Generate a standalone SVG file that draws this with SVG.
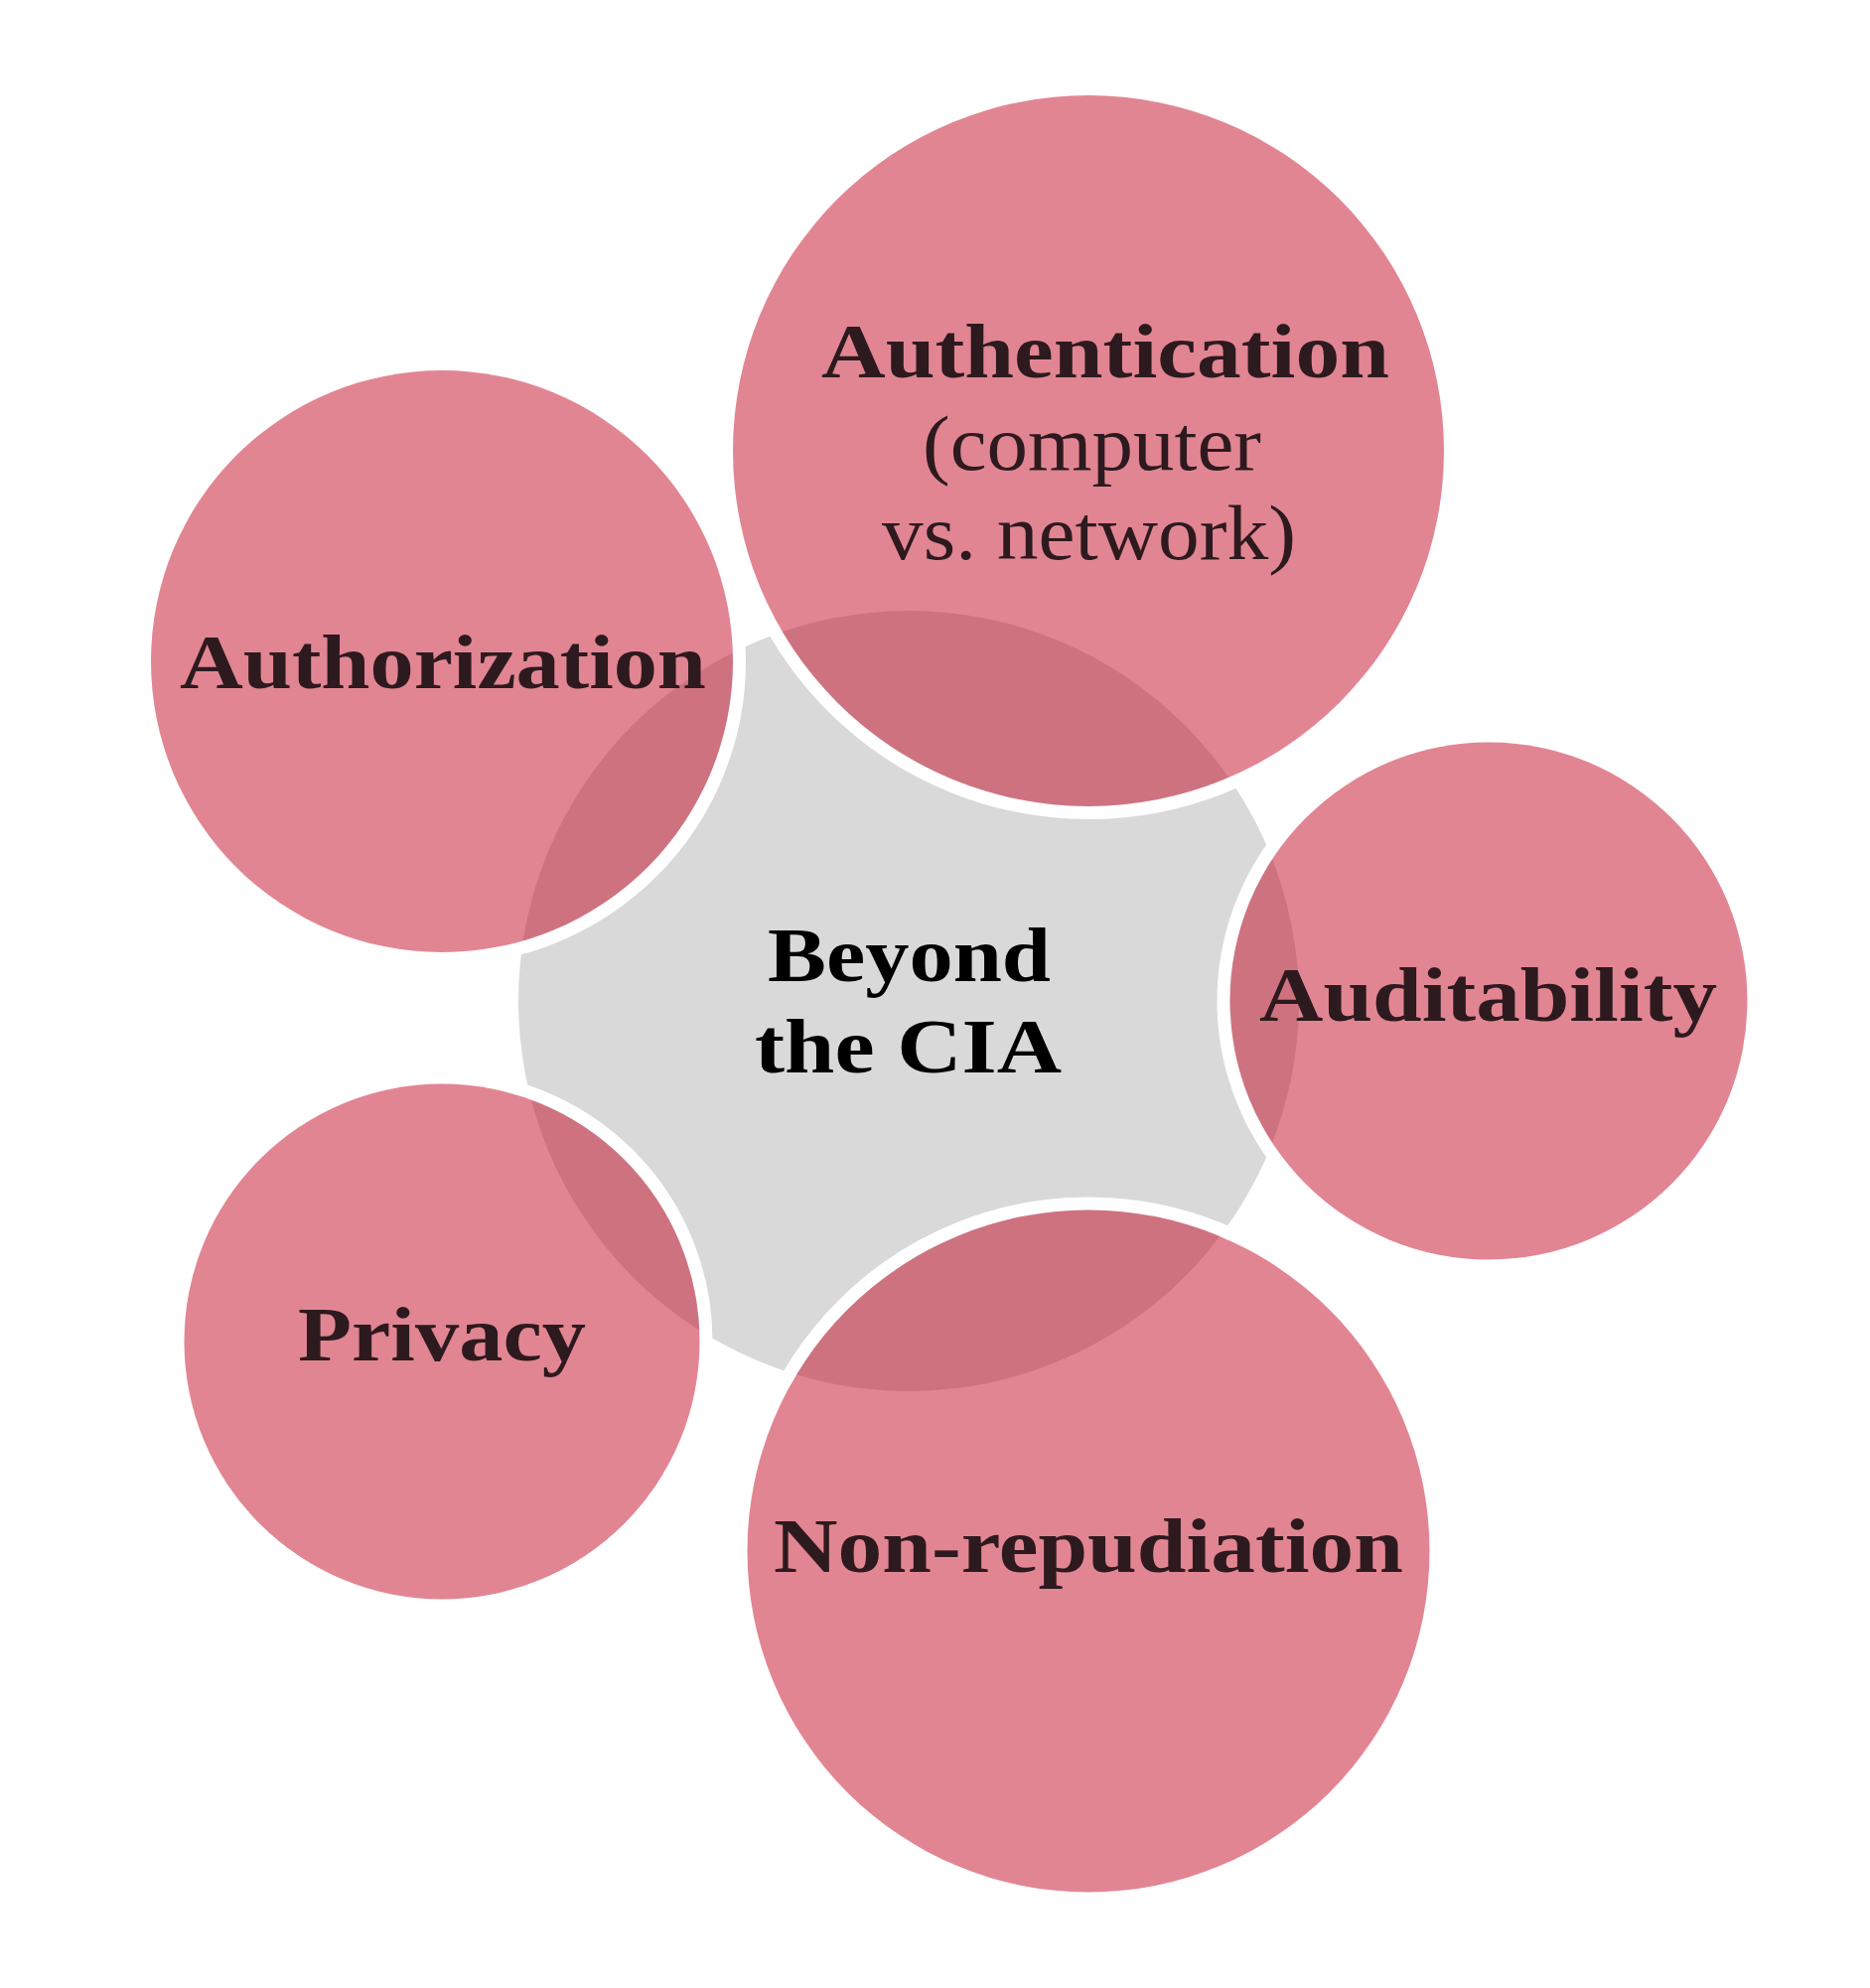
<svg xmlns="http://www.w3.org/2000/svg" width="1883" height="2002" viewBox="0 0 1883 2002">
<style>
.ring{fill:none;stroke:#ffffff;stroke-width:13}
.sat{fill:rgb(197,11,39);fill-opacity:0.5}
.hub{fill:#d9d9d9}
.t{font-family:"Liberation Serif","Times New Roman",serif;font-size:78px;fill:#2d1a1e}
.b{font-weight:bold}
.c{fill:#000000}
</style>
<rect width="1883" height="2002" fill="#ffffff"/>
<g id="hub">
<circle class="hub" cx="915" cy="1008" r="393"/>
</g>
<g id="connectors"></g>
<g id="authentication">
<circle class="ring" cx="1096" cy="454" r="364.5"/>
<circle class="sat" cx="1096" cy="454" r="358"/>
<text class="t b" x="827" y="380" textLength="572" lengthAdjust="spacingAndGlyphs">Authentication</text>
<text class="t" x="929" y="473" textLength="341" lengthAdjust="spacingAndGlyphs">(computer</text>
<text class="t" x="888" y="563" textLength="417" lengthAdjust="spacingAndGlyphs">vs. network)</text>
</g>
<g id="authorization">
<circle class="ring" cx="445" cy="666" r="299.5"/>
<circle class="sat" cx="445" cy="666" r="293"/>
<text class="t b" x="181" y="693" textLength="530" lengthAdjust="spacingAndGlyphs">Authorization</text>
</g>
<g id="auditability">
<circle class="ring" cx="1499" cy="1008" r="267"/>
<circle class="sat" cx="1499" cy="1008" r="260.5"/>
<text class="t b" x="1268" y="1028" textLength="461" lengthAdjust="spacingAndGlyphs">Auditability</text>
</g>
<g id="privacy">
<circle class="ring" cx="445" cy="1351" r="266"/>
<circle class="sat" cx="445" cy="1351" r="259.5"/>
<text class="t b" x="300" y="1370" textLength="290" lengthAdjust="spacingAndGlyphs">Privacy</text>
</g>
<g id="nonrepudiation">
<circle class="ring" cx="1096" cy="1562" r="350"/>
<circle class="sat" cx="1096" cy="1562" r="343.5"/>
<text class="t b" x="779" y="1583" textLength="634" lengthAdjust="spacingAndGlyphs">Non-repudiation</text>
</g>
<g id="center-label">
<text class="t b c" x="773" y="988" textLength="285" lengthAdjust="spacingAndGlyphs">Beyond</text>
<text class="t b c" x="760" y="1080" textLength="309" lengthAdjust="spacingAndGlyphs">the CIA</text>
</g>
</svg>
